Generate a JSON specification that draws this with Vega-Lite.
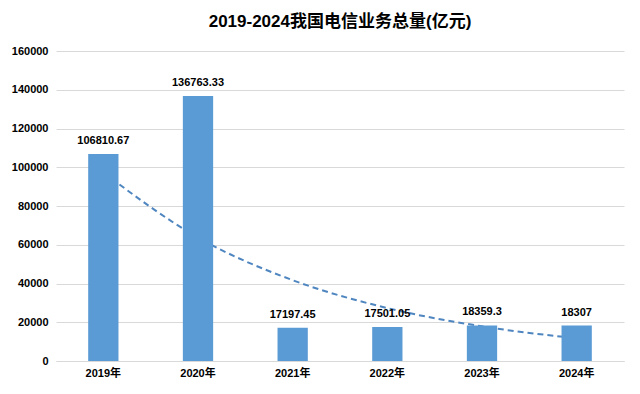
{
  "$schema": "https://vega.github.io/schema/vega-lite/v6.json",
  "autosize": "none",
  "width": 568,
  "height": 310,
  "padding": {"left": 56, "top": 51, "right": 16, "bottom": 33},
  "background": "white",
  "title": {
    "text": "2019-2024我国电信业务总量(亿元)",
    "fontSize": 17,
    "fontWeight": "bold",
    "font": "Liberation Sans, Noto Sans CJK SC",
    "color": "#000000",
    "anchor": "middle",
    "offset": 14
  },
  "data": {
    "values": [
      {"year": "2019年", "value": 106810.67, "label": "106810.67", "trend": 97314},
      {"year": "2020年", "value": 136763.33, "label": "136763.33", "trend": 63710},
      {"year": "2021年", "value": 17197.45, "label": "17197.45", "trend": 41713},
      {"year": "2022年", "value": 17501.05, "label": "17501.05", "trend": 27308},
      {"year": "2023年", "value": 18359.3, "label": "18359.3", "trend": 17879},
      {"year": "2024年", "value": 18307, "label": "18307", "trend": 11705}
    ]
  },
  "encoding": {
    "x": {
      "field": "year",
      "type": "nominal",
      "sort": null,
      "scale": {"paddingInner": 0.68, "paddingOuter": 0.34},
      "axis": {
        "title": null,
        "labelAngle": 0,
        "labelFontSize": 11,
        "labelFontWeight": "bold",
        "labelFont": "Liberation Sans, Noto Sans CJK SC",
        "labelColor": "#000000",
        "labelPadding": 6,
        "ticks": false,
        "domainColor": "#d9d9d9",
        "domainWidth": 1
      }
    }
  },
  "layer": [
    {
      "mark": {"type": "line", "interpolate": "monotone", "strokeDash": [6, 4], "strokeWidth": 2, "color": "#4f86c0"},
      "encoding": {
        "y": {
          "field": "trend",
          "type": "quantitative",
          "scale": {"domain": [0, 160000]},
          "axis": {"title": null, "values": [0, 20000, 40000, 60000, 80000, 100000, 120000, 140000, 160000]}
        }
      }
    },
    {
      "mark": {"type": "bar", "color": "#5b9bd5"},
      "encoding": {
        "y": {
          "field": "value",
          "type": "quantitative",
          "axis": {"title": null, "values": [0, 20000, 40000, 60000, 80000, 100000, 120000, 140000, 160000]}
        }
      }
    },
    {
      "mark": {"type": "text", "baseline": "bottom", "dy": -8, "fontSize": 11, "fontWeight": "bold", "font": "Liberation Sans", "color": "#000000"},
      "encoding": {
        "y": {
          "field": "value",
          "type": "quantitative",
          "axis": {"title": null, "values": [0, 20000, 40000, 60000, 80000, 100000, 120000, 140000, 160000]}
        },
        "text": {"field": "label", "type": "nominal"}
      }
    }
  ],
  "config": {
    "view": {"stroke": null},
    "axisY": {
      "format": "d",
      "labelOverlap": false,
      "labelFontSize": 11,
      "labelFontWeight": "bold",
      "labelFont": "Liberation Sans",
      "labelColor": "#000000",
      "labelPadding": 8,
      "ticks": false,
      "domain": false,
      "gridColor": "#d9d9d9",
      "gridWidth": 1
    }
  }
}
